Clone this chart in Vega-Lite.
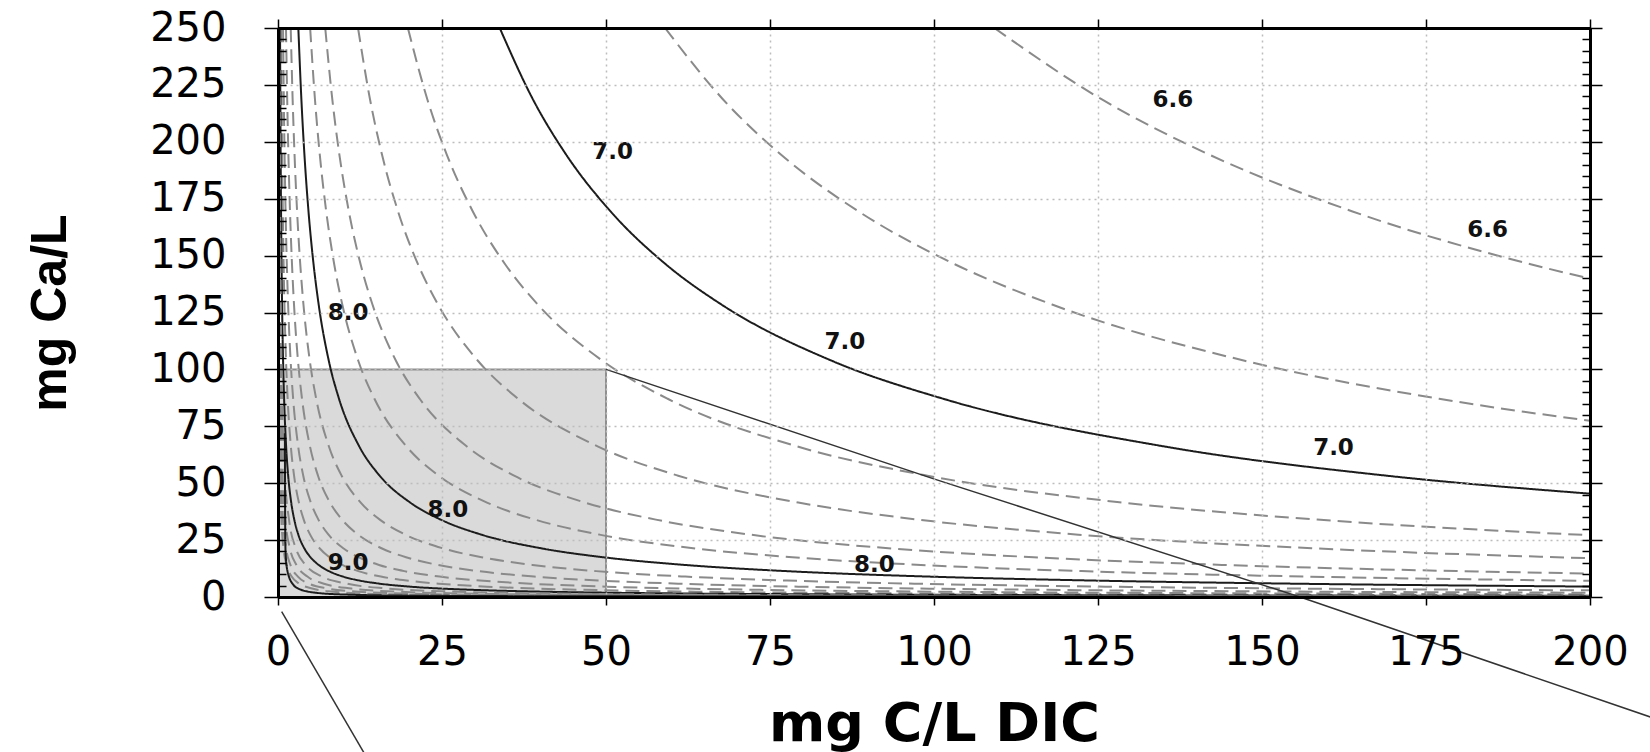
{
  "$schema": "https://vega.github.io/schema/vega-lite/v6.json",
  "width": 1312,
  "height": 569,
  "autosize": {"type": "none"},
  "padding": {"left": 278, "top": 28, "right": 60, "bottom": 155},
  "background": "white",
  "config": {"view": {"stroke": null}, "font": "DejaVu Sans"},
  "datasets": {
    "box": [{"x0": 0, "x1": 50, "y0": 0, "y1": 100}],
    "conn": [
      {"g": "a", "o": 1, "x": 50, "y": 100},
      {"g": "a", "o": 2, "x": 99.85, "y": 52.0},
      {"g": "a", "o": 3, "x": 155.8, "y": 0},
      {"g": "a", "o": 4, "x": 220, "y": -63.4},
      {"g": "b", "o": 1, "x": 0.56, "y": -6.46},
      {"g": "b", "o": 2, "x": 14.43, "y": -75}
    ],
    "labels": [
      {"t": "6.6", "x": 136.4, "y": 218.4},
      {"t": "6.6", "x": 184.4, "y": 161.2},
      {"t": "7.0", "x": 51.0, "y": 195.3},
      {"t": "7.0", "x": 86.4, "y": 112.2},
      {"t": "7.0", "x": 160.9, "y": 65.3},
      {"t": "8.0", "x": 10.7, "y": 124.6},
      {"t": "8.0", "x": 25.9, "y": 38.2},
      {"t": "8.0", "x": 90.9, "y": 14.1},
      {"t": "9.0", "x": 10.7, "y": 14.8}
    ],
    "curves": [
      {"p": "6.6", "s": "dash", "x": 109.2, "y": 250}, {"p": "6.6", "s": "dash", "x": 125.6, "y": 218.6}, {"p": "6.6", "s": "dash", "x": 142.0, "y": 194.3}, {"p": "6.6", "s": "dash", "x": 163.8, "y": 169.4}, {"p": "6.6", "s": "dash", "x": 191.1, "y": 146.1}, {"p": "6.6", "s": "dash", "x": 200, "y": 139.9},
      {"p": "6.8", "s": "dash", "x": 59.0, "y": 250}, {"p": "6.8", "s": "dash", "x": 67.85, "y": 218.6}, {"p": "6.8", "s": "dash", "x": 76.7, "y": 194.3}, {"p": "6.8", "s": "dash", "x": 88.5, "y": 169.4}, {"p": "6.8", "s": "dash", "x": 103.25, "y": 146.1}, {"p": "6.8", "s": "dash", "x": 118.0, "y": 128.5}, {"p": "6.8", "s": "dash", "x": 147.5, "y": 103.7}, {"p": "6.8", "s": "dash", "x": 177.0, "y": 87.1}, {"p": "6.8", "s": "dash", "x": 200, "y": 77.4},
      {"p": "7.0", "s": "solid", "x": 33.8, "y": 250}, {"p": "7.0", "s": "solid", "x": 38.87, "y": 218.6}, {"p": "7.0", "s": "solid", "x": 43.94, "y": 194.3}, {"p": "7.0", "s": "solid", "x": 50.7, "y": 169.4}, {"p": "7.0", "s": "solid", "x": 59.15, "y": 146.1}, {"p": "7.0", "s": "solid", "x": 67.6, "y": 128.5}, {"p": "7.0", "s": "solid", "x": 84.5, "y": 103.7}, {"p": "7.0", "s": "solid", "x": 101.4, "y": 87.1}, {"p": "7.0", "s": "solid", "x": 135.2, "y": 66.1}, {"p": "7.0", "s": "solid", "x": 169.0, "y": 53.3}, {"p": "7.0", "s": "solid", "x": 200, "y": 45.4},
      {"p": "7.2", "s": "dash", "x": 19.8, "y": 250}, {"p": "7.2", "s": "dash", "x": 22.77, "y": 218.6}, {"p": "7.2", "s": "dash", "x": 25.74, "y": 194.3}, {"p": "7.2", "s": "dash", "x": 29.7, "y": 169.4}, {"p": "7.2", "s": "dash", "x": 34.65, "y": 146.1}, {"p": "7.2", "s": "dash", "x": 39.6, "y": 128.5}, {"p": "7.2", "s": "dash", "x": 49.5, "y": 103.7}, {"p": "7.2", "s": "dash", "x": 59.4, "y": 87.1}, {"p": "7.2", "s": "dash", "x": 79.2, "y": 66.1}, {"p": "7.2", "s": "dash", "x": 99.0, "y": 53.3}, {"p": "7.2", "s": "dash", "x": 128.7, "y": 41.5}, {"p": "7.2", "s": "dash", "x": 158.4, "y": 34.0}, {"p": "7.2", "s": "dash", "x": 200, "y": 27.15},
      {"p": "7.4", "s": "dash", "x": 12.2, "y": 250}, {"p": "7.4", "s": "dash", "x": 14.03, "y": 218.6}, {"p": "7.4", "s": "dash", "x": 15.86, "y": 194.3}, {"p": "7.4", "s": "dash", "x": 18.3, "y": 169.4}, {"p": "7.4", "s": "dash", "x": 21.35, "y": 146.1}, {"p": "7.4", "s": "dash", "x": 24.4, "y": 128.5}, {"p": "7.4", "s": "dash", "x": 30.5, "y": 103.7}, {"p": "7.4", "s": "dash", "x": 36.6, "y": 87.1}, {"p": "7.4", "s": "dash", "x": 48.8, "y": 66.1}, {"p": "7.4", "s": "dash", "x": 61.0, "y": 53.3}, {"p": "7.4", "s": "dash", "x": 79.3, "y": 41.5}, {"p": "7.4", "s": "dash", "x": 97.6, "y": 34.0}, {"p": "7.4", "s": "dash", "x": 122.0, "y": 27.4}, {"p": "7.4", "s": "dash", "x": 158.6, "y": 21.3}, {"p": "7.4", "s": "dash", "x": 200, "y": 17.05},
      {"p": "7.6", "s": "dash", "x": 7.2, "y": 250}, {"p": "7.6", "s": "dash", "x": 8.28, "y": 218.6}, {"p": "7.6", "s": "dash", "x": 9.36, "y": 194.3}, {"p": "7.6", "s": "dash", "x": 10.8, "y": 169.4}, {"p": "7.6", "s": "dash", "x": 12.6, "y": 146.1}, {"p": "7.6", "s": "dash", "x": 14.4, "y": 128.5}, {"p": "7.6", "s": "dash", "x": 18.0, "y": 103.7}, {"p": "7.6", "s": "dash", "x": 21.6, "y": 87.1}, {"p": "7.6", "s": "dash", "x": 28.8, "y": 66.1}, {"p": "7.6", "s": "dash", "x": 36.0, "y": 53.3}, {"p": "7.6", "s": "dash", "x": 46.8, "y": 41.5}, {"p": "7.6", "s": "dash", "x": 57.6, "y": 34.0}, {"p": "7.6", "s": "dash", "x": 72.0, "y": 27.4}, {"p": "7.6", "s": "dash", "x": 93.6, "y": 21.3}, {"p": "7.6", "s": "dash", "x": 115.2, "y": 17.46}, {"p": "7.6", "s": "dash", "x": 144.0, "y": 14.09}, {"p": "7.6", "s": "dash", "x": 180.0, "y": 11.37}, {"p": "7.6", "s": "dash", "x": 200, "y": 10.28},
      {"p": "7.8", "s": "dash", "x": 4.9, "y": 250}, {"p": "7.8", "s": "dash", "x": 5.635, "y": 218.6}, {"p": "7.8", "s": "dash", "x": 6.37, "y": 194.3}, {"p": "7.8", "s": "dash", "x": 7.35, "y": 169.4}, {"p": "7.8", "s": "dash", "x": 8.575, "y": 146.1}, {"p": "7.8", "s": "dash", "x": 9.8, "y": 128.5}, {"p": "7.8", "s": "dash", "x": 12.25, "y": 103.7}, {"p": "7.8", "s": "dash", "x": 14.7, "y": 87.1}, {"p": "7.8", "s": "dash", "x": 19.6, "y": 66.1}, {"p": "7.8", "s": "dash", "x": 24.5, "y": 53.3}, {"p": "7.8", "s": "dash", "x": 31.85, "y": 41.5}, {"p": "7.8", "s": "dash", "x": 39.2, "y": 34.0}, {"p": "7.8", "s": "dash", "x": 49.0, "y": 27.4}, {"p": "7.8", "s": "dash", "x": 63.7, "y": 21.3}, {"p": "7.8", "s": "dash", "x": 78.4, "y": 17.46}, {"p": "7.8", "s": "dash", "x": 98.0, "y": 14.09}, {"p": "7.8", "s": "dash", "x": 122.5, "y": 11.37}, {"p": "7.8", "s": "dash", "x": 156.8, "y": 8.97}, {"p": "7.8", "s": "dash", "x": 200, "y": 7.1},
      {"p": "8.0", "s": "solid", "x": 3.1, "y": 250}, {"p": "8.0", "s": "solid", "x": 3.565, "y": 218.6}, {"p": "8.0", "s": "solid", "x": 4.03, "y": 194.3}, {"p": "8.0", "s": "solid", "x": 4.65, "y": 169.4}, {"p": "8.0", "s": "solid", "x": 5.425, "y": 146.1}, {"p": "8.0", "s": "solid", "x": 6.2, "y": 128.5}, {"p": "8.0", "s": "solid", "x": 7.75, "y": 103.7}, {"p": "8.0", "s": "solid", "x": 9.3, "y": 87.1}, {"p": "8.0", "s": "solid", "x": 12.4, "y": 66.1}, {"p": "8.0", "s": "solid", "x": 15.5, "y": 53.3}, {"p": "8.0", "s": "solid", "x": 20.15, "y": 41.5}, {"p": "8.0", "s": "solid", "x": 24.8, "y": 34.0}, {"p": "8.0", "s": "solid", "x": 31.0, "y": 27.4}, {"p": "8.0", "s": "solid", "x": 40.3, "y": 21.3}, {"p": "8.0", "s": "solid", "x": 49.6, "y": 17.46}, {"p": "8.0", "s": "solid", "x": 62.0, "y": 14.09}, {"p": "8.0", "s": "solid", "x": 77.5, "y": 11.37}, {"p": "8.0", "s": "solid", "x": 99.2, "y": 8.97}, {"p": "8.0", "s": "solid", "x": 124.0, "y": 7.24}, {"p": "8.0", "s": "solid", "x": 155.0, "y": 5.85}, {"p": "8.0", "s": "solid", "x": 200, "y": 4.58},
      {"p": "8.2", "s": "dash", "x": 1.94, "y": 250}, {"p": "8.2", "s": "dash", "x": 2.231, "y": 218.6}, {"p": "8.2", "s": "dash", "x": 2.522, "y": 194.3}, {"p": "8.2", "s": "dash", "x": 2.91, "y": 169.4}, {"p": "8.2", "s": "dash", "x": 3.395, "y": 146.1}, {"p": "8.2", "s": "dash", "x": 3.88, "y": 128.5}, {"p": "8.2", "s": "dash", "x": 4.85, "y": 103.7}, {"p": "8.2", "s": "dash", "x": 5.82, "y": 87.1}, {"p": "8.2", "s": "dash", "x": 7.76, "y": 66.1}, {"p": "8.2", "s": "dash", "x": 9.7, "y": 53.3}, {"p": "8.2", "s": "dash", "x": 12.61, "y": 41.5}, {"p": "8.2", "s": "dash", "x": 15.52, "y": 34.0}, {"p": "8.2", "s": "dash", "x": 19.4, "y": 27.4}, {"p": "8.2", "s": "dash", "x": 25.22, "y": 21.3}, {"p": "8.2", "s": "dash", "x": 31.04, "y": 17.46}, {"p": "8.2", "s": "dash", "x": 38.8, "y": 14.09}, {"p": "8.2", "s": "dash", "x": 48.5, "y": 11.37}, {"p": "8.2", "s": "dash", "x": 62.08, "y": 8.97}, {"p": "8.2", "s": "dash", "x": 77.6, "y": 7.24}, {"p": "8.2", "s": "dash", "x": 97.0, "y": 5.85}, {"p": "8.2", "s": "dash", "x": 126.1, "y": 4.54}, {"p": "8.2", "s": "dash", "x": 155.2, "y": 3.72}, {"p": "8.2", "s": "dash", "x": 200, "y": 2.92},
      {"p": "8.4", "s": "dash", "x": 1.22, "y": 250}, {"p": "8.4", "s": "dash", "x": 1.403, "y": 218.6}, {"p": "8.4", "s": "dash", "x": 1.586, "y": 194.3}, {"p": "8.4", "s": "dash", "x": 1.83, "y": 169.4}, {"p": "8.4", "s": "dash", "x": 2.135, "y": 146.1}, {"p": "8.4", "s": "dash", "x": 2.44, "y": 128.5}, {"p": "8.4", "s": "dash", "x": 3.05, "y": 103.7}, {"p": "8.4", "s": "dash", "x": 3.66, "y": 87.1}, {"p": "8.4", "s": "dash", "x": 4.88, "y": 66.1}, {"p": "8.4", "s": "dash", "x": 6.1, "y": 53.3}, {"p": "8.4", "s": "dash", "x": 7.93, "y": 41.5}, {"p": "8.4", "s": "dash", "x": 9.76, "y": 34.0}, {"p": "8.4", "s": "dash", "x": 12.2, "y": 27.4}, {"p": "8.4", "s": "dash", "x": 15.86, "y": 21.3}, {"p": "8.4", "s": "dash", "x": 19.52, "y": 17.46}, {"p": "8.4", "s": "dash", "x": 24.4, "y": 14.09}, {"p": "8.4", "s": "dash", "x": 30.5, "y": 11.37}, {"p": "8.4", "s": "dash", "x": 39.04, "y": 8.97}, {"p": "8.4", "s": "dash", "x": 48.8, "y": 7.24}, {"p": "8.4", "s": "dash", "x": 61.0, "y": 5.85}, {"p": "8.4", "s": "dash", "x": 79.3, "y": 4.54}, {"p": "8.4", "s": "dash", "x": 97.6, "y": 3.72}, {"p": "8.4", "s": "dash", "x": 122.0, "y": 3.01}, {"p": "8.4", "s": "dash", "x": 158.6, "y": 2.34}, {"p": "8.4", "s": "dash", "x": 200, "y": 1.87},
      {"p": "8.6", "s": "dash", "x": 0.77, "y": 250}, {"p": "8.6", "s": "dash", "x": 0.886, "y": 218.6}, {"p": "8.6", "s": "dash", "x": 1.001, "y": 194.3}, {"p": "8.6", "s": "dash", "x": 1.155, "y": 169.4}, {"p": "8.6", "s": "dash", "x": 1.348, "y": 146.1}, {"p": "8.6", "s": "dash", "x": 1.54, "y": 128.5}, {"p": "8.6", "s": "dash", "x": 1.925, "y": 103.7}, {"p": "8.6", "s": "dash", "x": 2.31, "y": 87.1}, {"p": "8.6", "s": "dash", "x": 3.08, "y": 66.1}, {"p": "8.6", "s": "dash", "x": 3.85, "y": 53.3}, {"p": "8.6", "s": "dash", "x": 5.005, "y": 41.5}, {"p": "8.6", "s": "dash", "x": 6.16, "y": 34.0}, {"p": "8.6", "s": "dash", "x": 7.7, "y": 27.4}, {"p": "8.6", "s": "dash", "x": 10.01, "y": 21.3}, {"p": "8.6", "s": "dash", "x": 12.32, "y": 17.46}, {"p": "8.6", "s": "dash", "x": 15.4, "y": 14.09}, {"p": "8.6", "s": "dash", "x": 19.25, "y": 11.37}, {"p": "8.6", "s": "dash", "x": 24.64, "y": 8.97}, {"p": "8.6", "s": "dash", "x": 30.8, "y": 7.24}, {"p": "8.6", "s": "dash", "x": 38.5, "y": 5.85}, {"p": "8.6", "s": "dash", "x": 50.05, "y": 4.54}, {"p": "8.6", "s": "dash", "x": 61.6, "y": 3.72}, {"p": "8.6", "s": "dash", "x": 77.0, "y": 3.01}, {"p": "8.6", "s": "dash", "x": 100.1, "y": 2.34}, {"p": "8.6", "s": "dash", "x": 123.2, "y": 1.91}, {"p": "8.6", "s": "dash", "x": 154.0, "y": 1.545}, {"p": "8.6", "s": "dash", "x": 200, "y": 1.2},
      {"p": "8.8", "s": "dash", "x": 0.49, "y": 250}, {"p": "8.8", "s": "dash", "x": 0.564, "y": 218.6}, {"p": "8.8", "s": "dash", "x": 0.637, "y": 194.3}, {"p": "8.8", "s": "dash", "x": 0.735, "y": 169.4}, {"p": "8.8", "s": "dash", "x": 0.858, "y": 146.1}, {"p": "8.8", "s": "dash", "x": 0.98, "y": 128.5}, {"p": "8.8", "s": "dash", "x": 1.225, "y": 103.7}, {"p": "8.8", "s": "dash", "x": 1.47, "y": 87.1}, {"p": "8.8", "s": "dash", "x": 1.96, "y": 66.1}, {"p": "8.8", "s": "dash", "x": 2.45, "y": 53.3}, {"p": "8.8", "s": "dash", "x": 3.185, "y": 41.5}, {"p": "8.8", "s": "dash", "x": 3.92, "y": 34.0}, {"p": "8.8", "s": "dash", "x": 4.9, "y": 27.4}, {"p": "8.8", "s": "dash", "x": 6.37, "y": 21.3}, {"p": "8.8", "s": "dash", "x": 7.84, "y": 17.46}, {"p": "8.8", "s": "dash", "x": 9.8, "y": 14.09}, {"p": "8.8", "s": "dash", "x": 12.25, "y": 11.37}, {"p": "8.8", "s": "dash", "x": 15.68, "y": 8.97}, {"p": "8.8", "s": "dash", "x": 19.6, "y": 7.24}, {"p": "8.8", "s": "dash", "x": 24.5, "y": 5.85}, {"p": "8.8", "s": "dash", "x": 31.85, "y": 4.54}, {"p": "8.8", "s": "dash", "x": 39.2, "y": 3.72}, {"p": "8.8", "s": "dash", "x": 49.0, "y": 3.01}, {"p": "8.8", "s": "dash", "x": 63.7, "y": 2.34}, {"p": "8.8", "s": "dash", "x": 78.4, "y": 1.91}, {"p": "8.8", "s": "dash", "x": 98.0, "y": 1.545}, {"p": "8.8", "s": "dash", "x": 122.5, "y": 1.25}, {"p": "8.8", "s": "dash", "x": 156.8, "y": 0.985}, {"p": "8.8", "s": "dash", "x": 200, "y": 0.78},
      {"p": "9.0", "s": "solid", "x": 0.31, "y": 250}, {"p": "9.0", "s": "solid", "x": 0.357, "y": 218.6}, {"p": "9.0", "s": "solid", "x": 0.403, "y": 194.3}, {"p": "9.0", "s": "solid", "x": 0.465, "y": 169.4}, {"p": "9.0", "s": "solid", "x": 0.543, "y": 146.1}, {"p": "9.0", "s": "solid", "x": 0.62, "y": 128.5}, {"p": "9.0", "s": "solid", "x": 0.775, "y": 103.7}, {"p": "9.0", "s": "solid", "x": 0.93, "y": 87.1}, {"p": "9.0", "s": "solid", "x": 1.24, "y": 66.1}, {"p": "9.0", "s": "solid", "x": 1.55, "y": 53.3}, {"p": "9.0", "s": "solid", "x": 2.015, "y": 41.5}, {"p": "9.0", "s": "solid", "x": 2.48, "y": 34.0}, {"p": "9.0", "s": "solid", "x": 3.1, "y": 27.4}, {"p": "9.0", "s": "solid", "x": 4.03, "y": 21.3}, {"p": "9.0", "s": "solid", "x": 4.96, "y": 17.46}, {"p": "9.0", "s": "solid", "x": 6.2, "y": 14.09}, {"p": "9.0", "s": "solid", "x": 7.75, "y": 11.37}, {"p": "9.0", "s": "solid", "x": 9.92, "y": 8.97}, {"p": "9.0", "s": "solid", "x": 12.4, "y": 7.24}, {"p": "9.0", "s": "solid", "x": 15.5, "y": 5.85}, {"p": "9.0", "s": "solid", "x": 20.15, "y": 4.54}, {"p": "9.0", "s": "solid", "x": 24.8, "y": 3.72}, {"p": "9.0", "s": "solid", "x": 31.0, "y": 3.01}, {"p": "9.0", "s": "solid", "x": 40.3, "y": 2.34}, {"p": "9.0", "s": "solid", "x": 49.6, "y": 1.91}, {"p": "9.0", "s": "solid", "x": 62.0, "y": 1.545}, {"p": "9.0", "s": "solid", "x": 77.5, "y": 1.25}, {"p": "9.0", "s": "solid", "x": 99.2, "y": 0.985}, {"p": "9.0", "s": "solid", "x": 124.0, "y": 0.794}, {"p": "9.0", "s": "solid", "x": 155.0, "y": 0.641}, {"p": "9.0", "s": "solid", "x": 200, "y": 0.5},
      {"p": "9.2", "s": "dash", "x": 0.21, "y": 250}, {"p": "9.2", "s": "dash", "x": 0.42, "y": 128.5}, {"p": "9.2", "s": "dash", "x": 0.63, "y": 87.1}, {"p": "9.2", "s": "dash", "x": 1.05, "y": 53.3}, {"p": "9.2", "s": "dash", "x": 1.68, "y": 34.0}, {"p": "9.2", "s": "dash", "x": 2.73, "y": 21.3}, {"p": "9.2", "s": "dash", "x": 4.2, "y": 14.09}, {"p": "9.2", "s": "dash", "x": 6.72, "y": 8.97}, {"p": "9.2", "s": "dash", "x": 10.5, "y": 5.85}, {"p": "9.2", "s": "dash", "x": 16.8, "y": 3.72}, {"p": "9.2", "s": "dash", "x": 27.3, "y": 2.34}, {"p": "9.2", "s": "dash", "x": 42.0, "y": 1.545}, {"p": "9.2", "s": "dash", "x": 67.2, "y": 0.985}, {"p": "9.2", "s": "dash", "x": 105.0, "y": 0.641}, {"p": "9.2", "s": "dash", "x": 168.0, "y": 0.408}, {"p": "9.2", "s": "dash", "x": 200, "y": 0.35},
      {"p": "9.4", "s": "dash", "x": 0.14, "y": 250}, {"p": "9.4", "s": "dash", "x": 0.28, "y": 128.5}, {"p": "9.4", "s": "dash", "x": 0.42, "y": 87.1}, {"p": "9.4", "s": "dash", "x": 0.7, "y": 53.3}, {"p": "9.4", "s": "dash", "x": 1.12, "y": 34.0}, {"p": "9.4", "s": "dash", "x": 1.82, "y": 21.3}, {"p": "9.4", "s": "dash", "x": 2.8, "y": 14.09}, {"p": "9.4", "s": "dash", "x": 4.48, "y": 8.97}, {"p": "9.4", "s": "dash", "x": 7.0, "y": 5.85}, {"p": "9.4", "s": "dash", "x": 11.2, "y": 3.72}, {"p": "9.4", "s": "dash", "x": 18.2, "y": 2.34}, {"p": "9.4", "s": "dash", "x": 28.0, "y": 1.545}, {"p": "9.4", "s": "dash", "x": 44.8, "y": 0.985}, {"p": "9.4", "s": "dash", "x": 70.0, "y": 0.641}, {"p": "9.4", "s": "dash", "x": 112.0, "y": 0.408}, {"p": "9.4", "s": "dash", "x": 200, "y": 0.235},
      {"p": "9.6", "s": "dash", "x": 0.095, "y": 250}, {"p": "9.6", "s": "dash", "x": 0.19, "y": 128.5}, {"p": "9.6", "s": "dash", "x": 0.285, "y": 87.1}, {"p": "9.6", "s": "dash", "x": 0.475, "y": 53.3}, {"p": "9.6", "s": "dash", "x": 0.76, "y": 34.0}, {"p": "9.6", "s": "dash", "x": 1.235, "y": 21.3}, {"p": "9.6", "s": "dash", "x": 1.9, "y": 14.09}, {"p": "9.6", "s": "dash", "x": 3.04, "y": 8.97}, {"p": "9.6", "s": "dash", "x": 4.75, "y": 5.85}, {"p": "9.6", "s": "dash", "x": 7.6, "y": 3.72}, {"p": "9.6", "s": "dash", "x": 12.35, "y": 2.34}, {"p": "9.6", "s": "dash", "x": 19.0, "y": 1.545}, {"p": "9.6", "s": "dash", "x": 30.4, "y": 0.985}, {"p": "9.6", "s": "dash", "x": 47.5, "y": 0.641}, {"p": "9.6", "s": "dash", "x": 76.0, "y": 0.408}, {"p": "9.6", "s": "dash", "x": 200, "y": 0.162},
      {"p": "9.8", "s": "dash", "x": 0.065, "y": 250}, {"p": "9.8", "s": "dash", "x": 0.13, "y": 128.5}, {"p": "9.8", "s": "dash", "x": 0.195, "y": 87.1}, {"p": "9.8", "s": "dash", "x": 0.325, "y": 53.3}, {"p": "9.8", "s": "dash", "x": 0.52, "y": 34.0}, {"p": "9.8", "s": "dash", "x": 0.845, "y": 21.3}, {"p": "9.8", "s": "dash", "x": 1.3, "y": 14.09}, {"p": "9.8", "s": "dash", "x": 2.08, "y": 8.97}, {"p": "9.8", "s": "dash", "x": 3.25, "y": 5.85}, {"p": "9.8", "s": "dash", "x": 5.2, "y": 3.72}, {"p": "9.8", "s": "dash", "x": 8.45, "y": 2.34}, {"p": "9.8", "s": "dash", "x": 13.0, "y": 1.545}, {"p": "9.8", "s": "dash", "x": 20.8, "y": 0.985}, {"p": "9.8", "s": "dash", "x": 32.5, "y": 0.641}, {"p": "9.8", "s": "dash", "x": 52.0, "y": 0.408}, {"p": "9.8", "s": "dash", "x": 200, "y": 0.112},
      {"p": "10.0", "s": "solid", "x": 1.05, "y": 72}, {"p": "10.0", "s": "solid", "x": 1.08, "y": 40}, {"p": "10.0", "s": "solid", "x": 1.15, "y": 20}, {"p": "10.0", "s": "solid", "x": 1.4, "y": 12}, {"p": "10.0", "s": "solid", "x": 2.3, "y": 5.5}, {"p": "10.0", "s": "solid", "x": 3.5, "y": 3.2}, {"p": "10.0", "s": "solid", "x": 6.0, "y": 1.8}, {"p": "10.0", "s": "solid", "x": 10.0, "y": 1.1}, {"p": "10.0", "s": "solid", "x": 20.0, "y": 0.6}, {"p": "10.0", "s": "solid", "x": 50.0, "y": 0.3}, {"p": "10.0", "s": "solid", "x": 200, "y": 0.12}
    ]
  },
  "layer": [
    {
      "data": {"name": "box"},
      "mark": {"type": "rect", "fill": "#dadada", "stroke": "#8f8f8f", "strokeWidth": 2},
      "encoding": {
        "x": {"field": "x0", "type": "quantitative", "scale": {"domain": [0, 200], "nice": false},
          "axis": {"orient": "bottom", "values": [0, 25, 50, 75, 100, 125, 150, 175, 200], "title": "mg C/L DIC",
            "titleFont": "DejaVu Sans", "titleFontSize": 54, "titleFontWeight": "bold", "titleColor": "#000",
            "titleBaseline": "alphabetic", "titleY": 143,
            "labelFont": "DejaVu Sans", "labelFontSize": 40, "labelColor": "#000", "labelPadding": 27, "labelBaseline": "top",
            "labelFlush": false, "labelOverlap": false,
            "tickSize": 8, "tickColor": "#000", "tickWidth": 1.5,
            "domain": true, "domainColor": "#000", "domainWidth": 3,
            "grid": true, "gridColor": "#bdbdbd", "gridDash": [2, 4], "gridWidth": 1.5, "zindex": 1}},
        "x2": {"field": "x1"},
        "y": {"field": "y0", "type": "quantitative", "scale": {"domain": [0, 250], "nice": false},
          "axis": {"orient": "left", "values": [0, 25, 50, 75, 100, 125, 150, 175, 200, 225, 250], "title": "mg Ca/L",
            "titleFont": "Liberation Sans", "titleFontSize": 50, "titleFontWeight": "bold", "titleColor": "#000",
            "titleBaseline": "alphabetic", "titleX": -213,
            "labelFont": "DejaVu Sans", "labelFontSize": 40, "labelColor": "#000", "labelPadding": 38,
            "labelFlush": false, "labelOverlap": false,
            "tickSize": 14, "tickColor": "#000", "tickWidth": 1.5,
            "domain": true, "domainColor": "#000", "domainWidth": 3,
            "grid": true, "gridColor": "#bdbdbd", "gridDash": [2, 4], "gridWidth": 1.5, "zindex": 1}},
        "y2": {"field": "y1"}
      }
    },
    {
      "data": {"name": "curves"},
      "mark": {"type": "line", "strokeWidth": 2, "interpolate": "monotone", "clip": true},
      "encoding": {
        "x": {"field": "x", "type": "quantitative", "scale": {"domain": [0, 200], "nice": false},
          "axis": {"orient": "top", "values": [0, 25, 50, 75, 100, 125, 150, 175, 200], "labels": false, "title": null,
            "tickSize": 9, "tickColor": "#000", "tickWidth": 1.5, "domain": true, "domainColor": "#000", "domainWidth": 3, "grid": false, "zindex": 1}},
        "y": {"field": "y", "type": "quantitative", "scale": {"domain": [0, 250], "nice": false},
          "axis": {"orient": "right", "values": [0, 25, 50, 75, 100, 125, 150, 175, 200, 225, 250], "labels": false, "title": null,
            "tickSize": 12, "tickColor": "#000", "tickWidth": 1.5, "domain": true, "domainColor": "#000", "domainWidth": 3, "grid": false, "zindex": 1}},
        "detail": {"field": "p"},
        "color": {"field": "s", "type": "nominal", "scale": {"domain": ["solid", "dash"], "range": ["#1c1c1c", "#8a8a8a"]}, "legend": null},
        "strokeDash": {"field": "s", "type": "nominal", "scale": {"domain": ["solid", "dash"], "range": [[1, 0], [14, 7]]}, "legend": null}
      }
    },
    {
      "data": {"name": "conn"},
      "mark": {"type": "line", "color": "#333333", "strokeWidth": 1.5, "clip": false},
      "encoding": {
        "x": {"field": "x", "type": "quantitative", "scale": {"domain": [0, 200], "nice": false}, "axis": null},
        "y": {"field": "y", "type": "quantitative", "scale": {"domain": [0, 250], "nice": false},
          "axis": {"orient": "right", "values": [0, 5, 10, 15, 20, 25, 30, 35, 40, 45, 50, 55, 60, 65, 70, 75, 80, 85, 90, 95, 100, 105, 110, 115, 120, 125, 130, 135, 140, 145, 150, 155, 160, 165, 170, 175, 180, 185, 190, 195, 200, 205, 210, 215, 220, 225, 230, 235, 240, 245, 250],
            "labels": false, "title": null, "tickSize": -8, "tickColor": "#000", "tickWidth": 1.5, "domain": false, "grid": false, "zindex": 1}},
        "detail": {"field": "g"},
        "order": {"field": "o"}
      }
    },
    {
      "data": {"name": "labels"},
      "mark": {"type": "text", "font": "DejaVu Sans", "fontSize": 23, "fontWeight": "bold", "color": "#111111", "align": "center", "baseline": "middle"},
      "encoding": {
        "x": {"field": "x", "type": "quantitative", "scale": {"domain": [0, 200], "nice": false}, "axis": null},
        "y": {"field": "y", "type": "quantitative", "scale": {"domain": [0, 250], "nice": false},
          "axis": {"orient": "left", "values": [0, 5, 10, 15, 20, 25, 30, 35, 40, 45, 50, 55, 60, 65, 70, 75, 80, 85, 90, 95, 100, 105, 110, 115, 120, 125, 130, 135, 140, 145, 150, 155, 160, 165, 170, 175, 180, 185, 190, 195, 200, 205, 210, 215, 220, 225, 230, 235, 240, 245, 250],
            "labels": false, "title": null, "tickSize": -8, "tickColor": "#000", "tickWidth": 1.5, "domain": false, "grid": false, "zindex": 1}},
        "text": {"field": "t"}
      }
    }
  ],
  "resolve": {"axis": {"x": "independent", "y": "independent"}}
}
